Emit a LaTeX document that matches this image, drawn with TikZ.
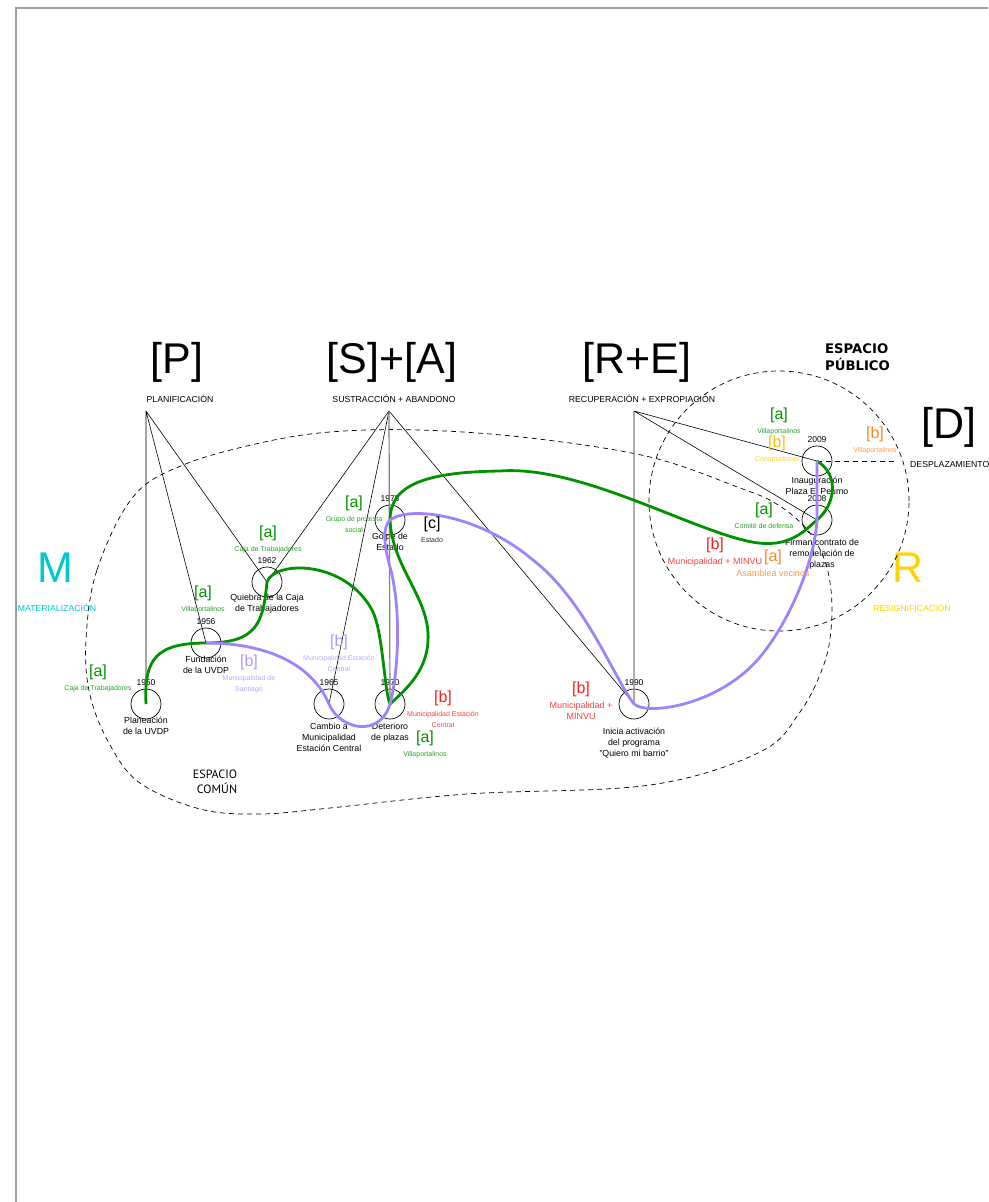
\documentclass[tikz,border=0pt]{standalone}
\usepackage{fontspec}
\setmainfont{Liberation Sans}
\newfontfamily\comunfont{PT Sans}
\newfontfamily\publicofont{DejaVu Sans}
\usepackage{xcolor}
\usepackage{tikz}
\definecolor{verde}{RGB}{0,145,0}
\definecolor{lila}{RGB}{160,130,255}
\definecolor{lilaclaro}{RGB}{175,150,255}
\definecolor{rojo}{RGB}{250,30,30}
\definecolor{naranjo}{RGB}{255,135,35}
\definecolor{amarillo}{RGB}{255,190,20}
\definecolor{oro}{RGB}{255,210,0}
\definecolor{cian}{RGB}{0,200,205}
\definecolor{marco}{RGB}{160,160,160}
\tikzset{
  hito/.style={circle,draw,line width=0.7pt,minimum size=30pt,inner sep=0pt},
  anio/.style={font=\fontsize{8.5}{10}\selectfont,inner sep=0pt},
  glosa/.style={font=\fontsize{8.8}{10.8}\selectfont,align=center,anchor=north,inner sep=0pt},
  actor/.style={font=\fontsize{16}{18}\selectfont,inner sep=0pt},
  actorsub/.style={align=center,anchor=north,inner sep=0pt},
  eje/.style={font=\fontsize{43}{48}\selectfont,inner sep=0pt},
  ejesub/.style={font=\fontsize{8.7}{10}\selectfont,inner sep=0pt,anchor=base},
  linea/.style={line width=0.6pt},
  borde/.style={dash pattern=on 5pt off 4pt,line width=0.7pt}
}
\newcommand{\hito}[6]{
\node[hito] (#1) at (#2,#3) {};
\node[anio] (#1a) at (#2,#3-21) {#4};
\node[glosa] (#1g) at (#2,#3+#5) {#6};
}
\newcommand{\actor}[7][7]{
\node[actor,text=#3] (#2) at (#4,#5) {[#6]};
\node[actorsub,text=#3!85!white,font=\fontsize{#1}{11}\selectfont] (#2s) at (#4,#5+13) {#7};
}
\newcommand{\trazo}{\draw[line width=2.8pt]}
\begin{document}
\begin{tikzpicture}[x=1pt,y=-1pt]
\useasboundingbox (0,0) rectangle (988,1202);
\draw[marco,line width=1.5pt] (16,1202)--(16,8)--(988,8);
\node[eje] (P) at (177,362) {[P]};
\node[eje] (SA) at (392,362) {[S]+[A]};
\node[eje] (RE) at (637,362) {[R+E]};
\node[eje] (D) at (949,427) {[D]};
\node[eje,text=cian] (M) at (55,568) {M};
\node[eje,text=oro] (R) at (908,568) {R};
\node[ejesub] (Psub) at (180,402) {PLANIFICACIÓN};
\node[ejesub] (SAsub) at (394,402) {SUSTRACCIÓN + ABANDONO};
\node[ejesub] (REsub) at (642,402) {RECUPERACIÓN + EXPROPIACIÓN};
\node[ejesub,anchor=base west] (Dsub) at (910,467) {DESPLAZAMIENTO};
\node[ejesub,text=cian] (Msub) at (57,611) {MATERIALIZACIÓN};
\node[ejesub,text=oro] (Rsub) at (912,611) {RESIGNIFICACIÓN};
\node[font=\publicofont\fontsize{13.2}{17}\selectfont\bfseries,align=left,anchor=north west,inner sep=0pt] (publico) at (825,343) {ESPACIO\\PÚBLICO};
\node[font=\comunfont\fontsize{12}{15}\selectfont,align=center,anchor=north,inner sep=0pt] (comun) at (215,770) {ESPACIO\\\hspace*{4pt}COMÚN};
\draw[borde] plot[smooth cycle,tension=0.6] coordinates {(86,640) (97,570) (133,497) (183,465) (260,443) (330,432) (420,430) (530,438) (650,457) (740,488) (775,503) (805,527) (823,556) (831,590) (831,630) (823,667) (800,712) (760,752) (650,785) (467,794) (330,808) (260,814) (200,809) (140,783) (110,745) (90,695)};
\draw[borde] (779,501) circle (130pt);
\hito{c1950}{146}{704}{1950}{13}{Planeación\\de la UVDP}\hito{c1956}{206}{643}{1956}{13}{Fundación\\de la UVDP}\hito{c1962}{267}{582}{1962}{12}{Quiebra de la Caja\\de Trabajadores}
\hito{c1965}{329}{704}{1965}{19}{Cambio a\\Municipalidad\\Estación Central}\hito{c1970}{390}{704}{1970}{19}{Deterioro\\de plazas}\hito{c1973}{390}{520}{1973}{13}{Golpe de\\Estado}
\hito{c1990}{634}{704}{1990}{24}{Inicia activación\\del programa\\"Quiero mi barrio"}\hito{c2009}{817}{461}{2009}{16}{Inauguración\\Plaza El Peumo}\hito{c2008}{817}{520}{2008}{19}{\hspace*{10pt}Firman contrato de\\\hspace*{10pt}remodelación de\\\hspace*{10pt}plazas}
\coordinate (vP) at (146,411);
\coordinate (vSA) at (389,411);
\coordinate (vRE) at (634,411);
\coordinate (finD) at (897,461);
\draw[linea] (vP)--(c1950.center) (vP)--(c1956.center) (vP)--(c1962.center);
\draw[linea] (vSA)--(c1962.center) (vSA)--(c1965.center) (vSA)--(c1990.center);
\draw[linea,gray,line width=1.2pt] (vSA)--(c1970.center) (vRE)--(c1990.center);
\draw[linea] (vRE)--(c2009.center) (vRE)--(c2008.center);
\draw[borde] (c2009.center)--(finD);
\trazo[verde] (c1950.center) .. controls (144,660) and (155,643) .. (c1956.center) .. controls (258,643) and (263,622) .. (c1962.center) .. controls (275,560) and (345,560) .. (372,610) .. controls (383,630) and (384,690) .. (c1970.center) .. controls (405,690) and (430,670) .. (428,633) .. controls (426,595) and (392,565) .. (c1973.center) .. controls (390,485) and (425,472) .. (500,471) .. controls (580,465) and (690,530) .. (752,542) .. controls (790,549) and (805,530) .. (c2008.center) .. controls (835,505) and (840,475) .. (c2009.center);
\trazo[lila] (c1956.center) .. controls (260,643) and (310,660) .. (c1965.center) .. controls (340,730) and (380,738) .. (c1970.center) .. controls (398,675) and (402,610) .. (390,567) .. controls (384,545) and (382,528) .. (c1973.center) .. controls (410,505) and (480,515) .. (533,560) .. controls (585,600) and (615,680) .. (c1990.center) .. controls (648,716) and (720,705) .. (760,657) .. controls (790,621) and (815,560) .. (c2008.center)--(c2009.center);
\actor{a1950}{verde}{98}{672}{a}{Caja de Trabajadores}\actor{a1956}{verde}{203}{593}{a}{Villaportalinos}\actor{a1962}{verde}{268}{533}{a}{Caja de Trabajadores}
\actor{a1973}{verde}{354}{503}{a}{Grupo de protesta\\social}\actor{c1973e}{black}{432}{524}{c}{Estado}\actor{b1956}{lilaclaro}{249}{662}{b}{Municipalidad de\\Santiago}
\actor{b1965}{lilaclaro}{339}{642}{b}{Municipalidad Estación\\Central}\actor{b1970}{rojo}{443}{698}{b}{Municipalidad Estación\\Central}\actor{a1970}{verde}{425}{738}{a}{Villaportalinos}
\actor[9]{b1990}{rojo}{581}{689}{b}{Municipalidad +\\MINVU}\actor{a2009}{verde}{779}{415}{a}{Villaportalinos}\actor{b2009}{amarillo}{777}{443}{b}{Constructoras}
\actor{bD}{naranjo}{875}{434}{b}{Villaportalinos}\actor{a2008}{verde}{764}{510}{a}{Comité de defensa}\actor[9]{b2008}{rojo}{715}{545}{b}{Municipalidad + MINVU}\actor[9]{a2008n}{naranjo}{773}{557}{a}{Asamblea vecinos}
\end{tikzpicture}
\end{document}
